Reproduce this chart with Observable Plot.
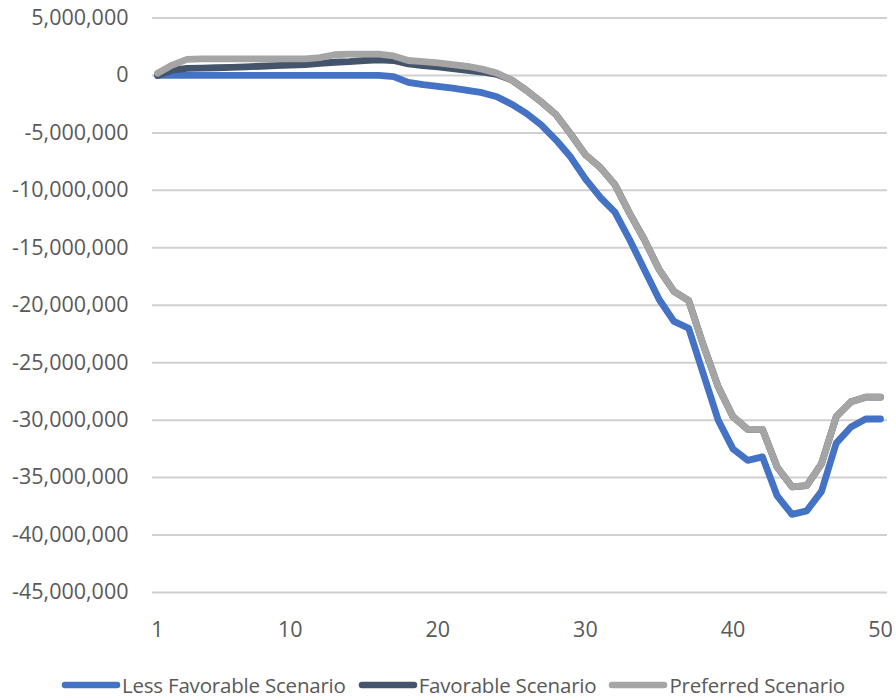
<!DOCTYPE html>
<html>
<head>
<meta charset="utf-8">
<script src="https://cdn.jsdelivr.net/npm/d3@7"></script>
<script src="https://cdn.jsdelivr.net/npm/@observablehq/plot@0.6"></script>
<style>
  html, body { margin: 0; padding: 0; background: #fff; }
  #chart { width: 896px; height: 700px; overflow: hidden; }
  .legend {
    display: flex; justify-content: center; align-items: center;
    height: 35px; padding-left: 10px; box-sizing: border-box;
    font-family: "Open Sans", sans-serif; font-size: 20.5px; color: #595959;
    padding-top: 5px; letter-spacing: -0.2px; line-height: 1;
  }
  .legend .item { display: flex; align-items: center; margin: 0 6px; }
  .legend svg { display: block; margin-right: 1px; }
</style>
</head>
<body>
<div id="chart"></div>
<script>
// Period index (x axis categories)
const periods = [1,2,3,4,5,6,7,8,9,10,11,12,13,14,15,16,17,18,19,20,21,22,23,24,25,
                 26,27,28,29,30,31,32,33,34,35,36,37,38,39,40,41,42,43,44,45,46,47,48,49,50];

// Cumulative values per scenario, in millions
const lessFavorable = [0,0,0,0,0,0,0,0,0,0, 0,0,0,0,0,0,-0.1,-0.6,-0.8,-0.95,
  -1.1,-1.3,-1.5,-1.85,-2.5,-3.3,-4.3,-5.6,-7.1,-9.0,
  -10.6,-11.9,-14.3,-16.9,-19.5,-21.4,-22.0,-26.0,-30.0,-32.5,
  -33.5,-33.2,-36.6,-38.2,-37.9,-36.2,-32.0,-30.6,-29.9,-29.9];
const favorable = [0,0.47,0.62,0.64,0.67,0.7,0.75,0.8,0.85,0.9, 0.95,1.05,1.15,1.2,1.3,1.35,1.3,1.0,0.85,0.75,
  0.6,0.45,0.3,0.1,-0.4,-1.3,-2.3,-3.4,-5.1,-6.9,
  -8.0,-9.5,-12.0,-14.3,-16.9,-18.8,-19.6,-23.5,-27.1,-29.7,
  -30.8,-30.8,-34.1,-35.8,-35.7,-33.8,-29.7,-28.4,-28.0,-28.0];
const preferred = [0.2,0.9,1.4,1.45,1.45,1.45,1.45,1.45,1.45,1.45, 1.45,1.55,1.8,1.85,1.85,1.85,1.7,1.3,1.2,1.1,
  0.95,0.8,0.55,0.2,-0.4,-1.3,-2.3,-3.4,-5.1,-6.9,
  -8.0,-9.5,-12.0,-14.3,-16.9,-18.8,-19.6,-23.5,-27.1,-29.7,
  -30.8,-30.8,-34.1,-35.8,-35.7,-33.8,-29.7,-28.4,-28.0,-28.0];

const seriesNames = ["Less Favorable Scenario", "Favorable Scenario", "Preferred Scenario"];
const seriesColors = ["#4472C4", "#44546A", "#A5A5A5"];

const xTicks = [1, 10, 20, 30, 40, 50];
const yTicks = [5000000, 0, -5000000, -10000000, -15000000, -20000000,
                -25000000, -30000000, -35000000, -40000000, -45000000];

// Long-format table: one row per (series, period)
const seriesValues = [lessFavorable, favorable, preferred];
const rows = [];
seriesNames.forEach((name, s) => {
  periods.forEach((p, i) => rows.push({series: name, period: p, value: seriesValues[s][i] * 1e6}));
});

const fmt = d => d.toLocaleString("en-US");

const chart = Plot.plot({
  width: 896,
  height: 665,
  marginTop: 17.5,
  marginBottom: 73,
  marginLeft: 152,
  marginRight: 9,
  style: {fontFamily: "Open Sans, sans-serif", fontSize: "21.5px", color: "#595959", background: "#fff"},
  x: {domain: [1, 50], insetLeft: 5, insetRight: 7, ticks: xTicks, tickSize: 0, tickPadding: 29, label: null, tickFormat: d => String(d)},
  y: {domain: [-45000000, 5000000], ticks: yTicks, tickSize: 0, tickPadding: 24, label: null, tickFormat: fmt},
  color: {domain: seriesNames, range: seriesColors},
  marks: [
    Plot.ruleY(yTicks, {stroke: "#d0d0d0", strokeWidth: 2}),
    Plot.line(rows, {x: "period", y: "value", z: "series", stroke: "series",
      strokeWidth: 6.8, strokeLinejoin: "round", strokeLinecap: "round"})
  ]
});

const root = document.getElementById("chart");
root.appendChild(chart);

// Legend below the plot
const legend = document.createElement("div");
legend.className = "legend";
seriesNames.forEach((name, i) => {
  const item = document.createElement("div");
  item.className = "item";
  item.innerHTML = `<svg width="60" height="10"><line x1="4" y1="5" x2="56" y2="5" stroke="${seriesColors[i]}" stroke-width="6.5" stroke-linecap="round"/></svg><span>${name}</span>`;
  legend.appendChild(item);
});
root.appendChild(legend);
</script>
</body>
</html>
